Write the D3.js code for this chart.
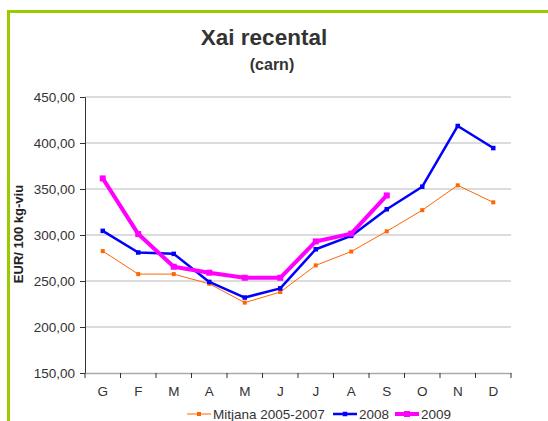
<!DOCTYPE html>
<html>
<head>
<meta charset="utf-8">
<script src="https://cdn.jsdelivr.net/npm/d3@7"></script>
<style>
body { margin: 0; background: #fff; }
svg { display: block; font-family: "Liberation Sans", Arial, sans-serif; }
</style>
</head>
<body>
<svg id="chart" width="548" height="421"></svg>
<script>
var months = ["G", "F", "M", "A", "M", "J", "J", "A", "S", "O", "N", "D"];
var mitjana = [282.5, 257.5, 257.5, 247, 226.5, 238, 267, 282, 304, 327, 354, 335.5];
var y2008 = [304.5, 281, 279.5, 249, 232, 242, 284.5, 299, 328, 352.5, 418.5, 394.5];
var y2009 = [361.5, 301, 265.5, 259, 253.5, 253.5, 293, 301.5, 343];
var yTicks = [150, 200, 250, 300, 350, 400, 450];

var svg = d3.select("#chart"),
plotLeft = 85, plotRight = 511, plotTop = 97, plotBottom = 373;

// marc verd
svg.append("path")
.attr("d", "M8.5,421 L8.5,11.5 L548,11.5")
.attr("fill", "none")
.attr("stroke", "#99cc00")
.attr("stroke-width", 3);

svg.append("text")
.attr("x", 264).attr("y", 45)
.attr("text-anchor", "middle")
.attr("font-size", "22.5px").attr("font-weight", "bold")
.attr("fill", "#333")
.text("Xai recental");
svg.append("text")
.attr("x", 272).attr("y", 70)
.attr("text-anchor", "middle")
.attr("font-size", "16px").attr("font-weight", "bold")
.attr("fill", "#333")
.text("(carn)");

var x = d3.scaleBand().domain(d3.range(months.length)).range([plotLeft, plotRight]);
var y = d3.scaleLinear().domain([150, 450]).range([plotBottom, plotTop]);

// graella
svg.append("g").selectAll("line")
.data(yTicks.slice(1))
.enter().append("line")
.attr("x1", plotLeft).attr("x2", plotRight)
.attr("y1", function (d) { return y(d); })
.attr("y2", function (d) { return y(d); })
.attr("stroke", "#d0d0d0")
.attr("stroke-width", 1.5);

var fmt = function (d) { return d3.format(".2f")(d).replace(".", ","); };

var yAxis = svg.append("g")
.attr("transform", "translate(" + plotLeft + ",0)")
.call(d3.axisLeft(y).tickValues(yTicks).tickFormat(fmt).tickSize(5).tickPadding(5));
yAxis.select(".domain").attr("stroke", "#333");
yAxis.selectAll(".tick line").attr("stroke", "#333");
yAxis.selectAll("text").attr("font-size", "13.5px").attr("fill", "#333")
.attr("font-family", "Liberation Sans, Arial, sans-serif");

var xAxis = svg.append("g")
.attr("transform", "translate(0," + plotBottom + ")")
.call(d3.axisBottom(x).tickFormat(function (d) { return months[d]; }).tickSize(0).tickPadding(13));
xAxis.select(".domain").attr("stroke", "#aaa").attr("stroke-width", 1.5);
xAxis.selectAll("text").attr("font-size", "13.5px").attr("fill", "#333")
.attr("font-family", "Liberation Sans, Arial, sans-serif");

// marques de l'eix x entre categories
svg.append("g").selectAll("line")
.data(d3.range(months.length + 1))
.enter().append("line")
.attr("x1", function (d) { return plotLeft + d * x.step(); })
.attr("x2", function (d) { return plotLeft + d * x.step(); })
.attr("y1", plotBottom).attr("y2", plotBottom + 5)
.attr("stroke", "#333");

svg.append("text")
.attr("transform", "translate(23,234) rotate(-90)")
.attr("text-anchor", "middle")
.attr("font-size", "13px").attr("font-weight", "bold")
.attr("fill", "#222")
.text("EUR/ 100 kg-viu");

var series = [
  {name: "Mitjana 2005-2007", values: mitjana, color: "#ff6600", width: 1, mark: 4},
  {name: "2008", values: y2008, color: "#0000ff", width: 2.5, mark: 4.5},
  {name: "2009", values: y2009, color: "#ff00ff", width: 4, mark: 6}
];

var line = d3.line()
.x(function (d, i) { return x(i) + x.bandwidth() / 2; })
.y(function (d) { return y(d); });

series.forEach(function (s) {
  svg.append("path")
  .attr("d", line(s.values))
  .attr("fill", "none")
  .attr("stroke", s.color)
  .attr("stroke-width", s.width)
  .attr("stroke-linejoin", "round");
  svg.append("g").selectAll("rect")
  .data(s.values)
  .enter().append("rect")
  .attr("x", function (d, i) { return x(i) + x.bandwidth() / 2 - s.mark / 2; })
  .attr("y", function (d) { return y(d) - s.mark / 2; })
  .attr("width", s.mark).attr("height", s.mark)
  .attr("fill", s.color);
});

// llegenda
var legX = [187, 333, 395];
var leg = svg.selectAll("g.legend")
.data(series)
.enter().append("g")
.attr("class", "legend")
.attr("transform", function (d, i) { return "translate(" + legX[i] + ",414)"; });
leg.append("line")
.attr("x1", 0).attr("x2", 24)
.attr("stroke", function (d) { return d.color; })
.attr("stroke-width", function (d) { return d.width; });
leg.append("rect")
.attr("x", function (d) { return 12 - d.mark / 2; })
.attr("y", function (d) { return -d.mark / 2; })
.attr("width", function (d) { return d.mark; })
.attr("height", function (d) { return d.mark; })
.attr("fill", function (d) { return d.color; });
leg.append("text")
.attr("x", 26).attr("y", 5)
.attr("font-size", "13.5px").attr("fill", "#333")
.text(function (d) { return d.name; });
</script>
</body>
</html>
